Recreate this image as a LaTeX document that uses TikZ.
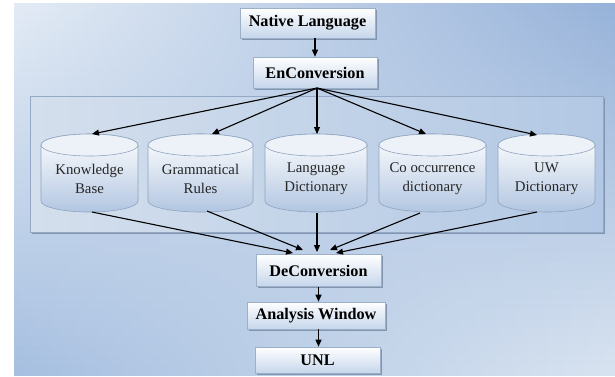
\documentclass[tikz,border=0pt]{standalone}
\usepackage{fontspec}
\setmainfont{Liberation Serif}
\usetikzlibrary{arrows.meta,shadows}
\definecolor{bgTL}{HTML}{E3EBF5}
\definecolor{bgTR}{HTML}{96B2D9}
\definecolor{bgBL}{HTML}{A6BFE0}
\definecolor{bgBR}{HTML}{D8E3F0}
\definecolor{panL}{HTML}{D4DFED}
\definecolor{panR}{HTML}{B2C8E4}
\definecolor{boxline}{HTML}{9CB0C8}
\definecolor{boxbot}{HTML}{C6D6EB}
\definecolor{cylline}{HTML}{8EA4BF}
\definecolor{cylbot}{HTML}{B2C6E1}
\definecolor{cyltop}{HTML}{EDF2F9}
\definecolor{panelline}{HTML}{93A9C6}
\definecolor{shadowc}{HTML}{8295B0}
\tikzset{
  procbox/.style={draw=boxline, line width=0.6pt, top color=white, bottom color=boxbot,
    font=\bfseries\fontsize{16.2}{16.2}\selectfont, inner sep=0pt,
    drop shadow={shadow xshift=1.5pt, shadow yshift=-1.5pt, fill=shadowc, opacity=1}},
  cyltext/.style={align=center, font=\fontsize{14.8}{19}\selectfont, inner sep=0pt, text=black!85},
  arr/.style={-{Triangle[length=7pt,width=6pt]}, line width=1.1pt, draw=black},
}
\newcommand\mycyl[4]{%
  \pgfmathsetmacro\cx{(#2+#3)/2}%
  \pgfmathsetmacro\rx{(#3-#2)/2}%
  \shadedraw[top color=white, bottom color=cylbot, draw=cylline, line width=0.6pt]
    (#2,-145) -- (#2,-201) arc[start angle=180,end angle=360,x radius=\rx,y radius=11]
    -- (#3,-145) arc[start angle=0,end angle=180,x radius=\rx,y radius=11] -- cycle;
  \filldraw[fill=cyltop, draw=cylline, line width=0.6pt] (\cx,-145) ellipse[x radius=\rx, y radius=11];
  \node[cyltext] (#1) at (\cx,-179) {#4};
}
\begin{document}
\begin{tikzpicture}[x=1pt,y=1pt]
\useasboundingbox (0,0) rectangle (615,-376);
\fill[white] (0,0) rectangle (615,-376);
% background: bilinear gradient built from horizontal strips
\begin{scope}
  \clip (14,-3) rectangle (615,-375);
  \foreach \i in {0,...,39}{
    \pgfmathsetmacro\p{100*(\i+0.5)/40}
    \pgfmathsetmacro\ya{-3-\i*9.3+0.5}
    \pgfmathsetmacro\yb{-3-(\i+1)*9.3-0.5}
    \shade[left color=bgBL!\p!bgTL, right color=bgBR!\p!bgTR] (14,\ya) rectangle (615,\yb);
  }
\end{scope}
% panel
\draw[shadowc, line width=1.5pt] (32,-233.5) -- (604.5,-233.5) -- (604.5,-98);
\shadedraw[draw=panelline, line width=0.8pt, left color=panL, right color=panR]
  (30,-96) rectangle (603,-232);

% process boxes
\node[procbox, minimum width=135pt, minimum height=30pt] (nat) at (307.5,-23) {Native Language};
\node[procbox, minimum width=124pt, minimum height=31pt] (enc) at (315,-72.5) {EnConversion};
\node[procbox, minimum width=125pt, minimum height=32pt] (dec) at (318.5,-270.5) {DeConversion};
\node[procbox, minimum width=138pt, minimum height=27pt] (ana) at (316,-315.5) {Analysis Window};
\node[procbox, minimum width=125pt, minimum height=26pt] (unl) at (317.5,-360) {UNL};

% cylinders
\mycyl{kb}{41}{138}{Knowledge\\Base}
\mycyl{gr}{148}{253}{Grammatical\\Rules}
\mycyl{ld}{265}{367}{Language\\Dictionary}
\mycyl{co}{379}{486}{Co occurrence\\dictionary}
\mycyl{uw}{498}{595}{UW\\Dictionary}

% connector end coordinates
\coordinate (fan) at (317,-88);
\coordinate (kbT) at (92,-134);
\coordinate (grT) at (212,-134);
\coordinate (ldT) at (317,-134);
\coordinate (coT) at (426,-134);
\coordinate (uwT) at (537,-135);
\coordinate (kbB) at (92,-212);
\coordinate (grB) at (207,-211);
\coordinate (ldB) at (317,-213);
\coordinate (coB) at (420,-213);
\coordinate (uwB) at (537,-212);
\coordinate (d1) at (293,-253);
\coordinate (d2) at (303,-250);
\coordinate (d3) at (317,-252);
\coordinate (d4) at (330,-250);
\coordinate (d5) at (336,-253);

% connectors
\draw[arr] (enc.north |- nat.south) -- (enc.north);
\foreach \t in {kbT,grT,ldT,coT,uwT} \draw[arr] (fan) -- (\t);
\draw[arr] (kbB) -- (d1);
\draw[arr] (grB) -- (d2);
\draw[arr] (ldB) -- (d3);
\draw[arr] (coB) -- (d4);
\draw[arr] (uwB) -- (d5);
\draw[arr] (dec.south) -- (dec.south |- ana.north);
\draw[arr] (dec.south |- ana.south) -- (dec.south |- unl.north);
\end{tikzpicture}
\end{document}
